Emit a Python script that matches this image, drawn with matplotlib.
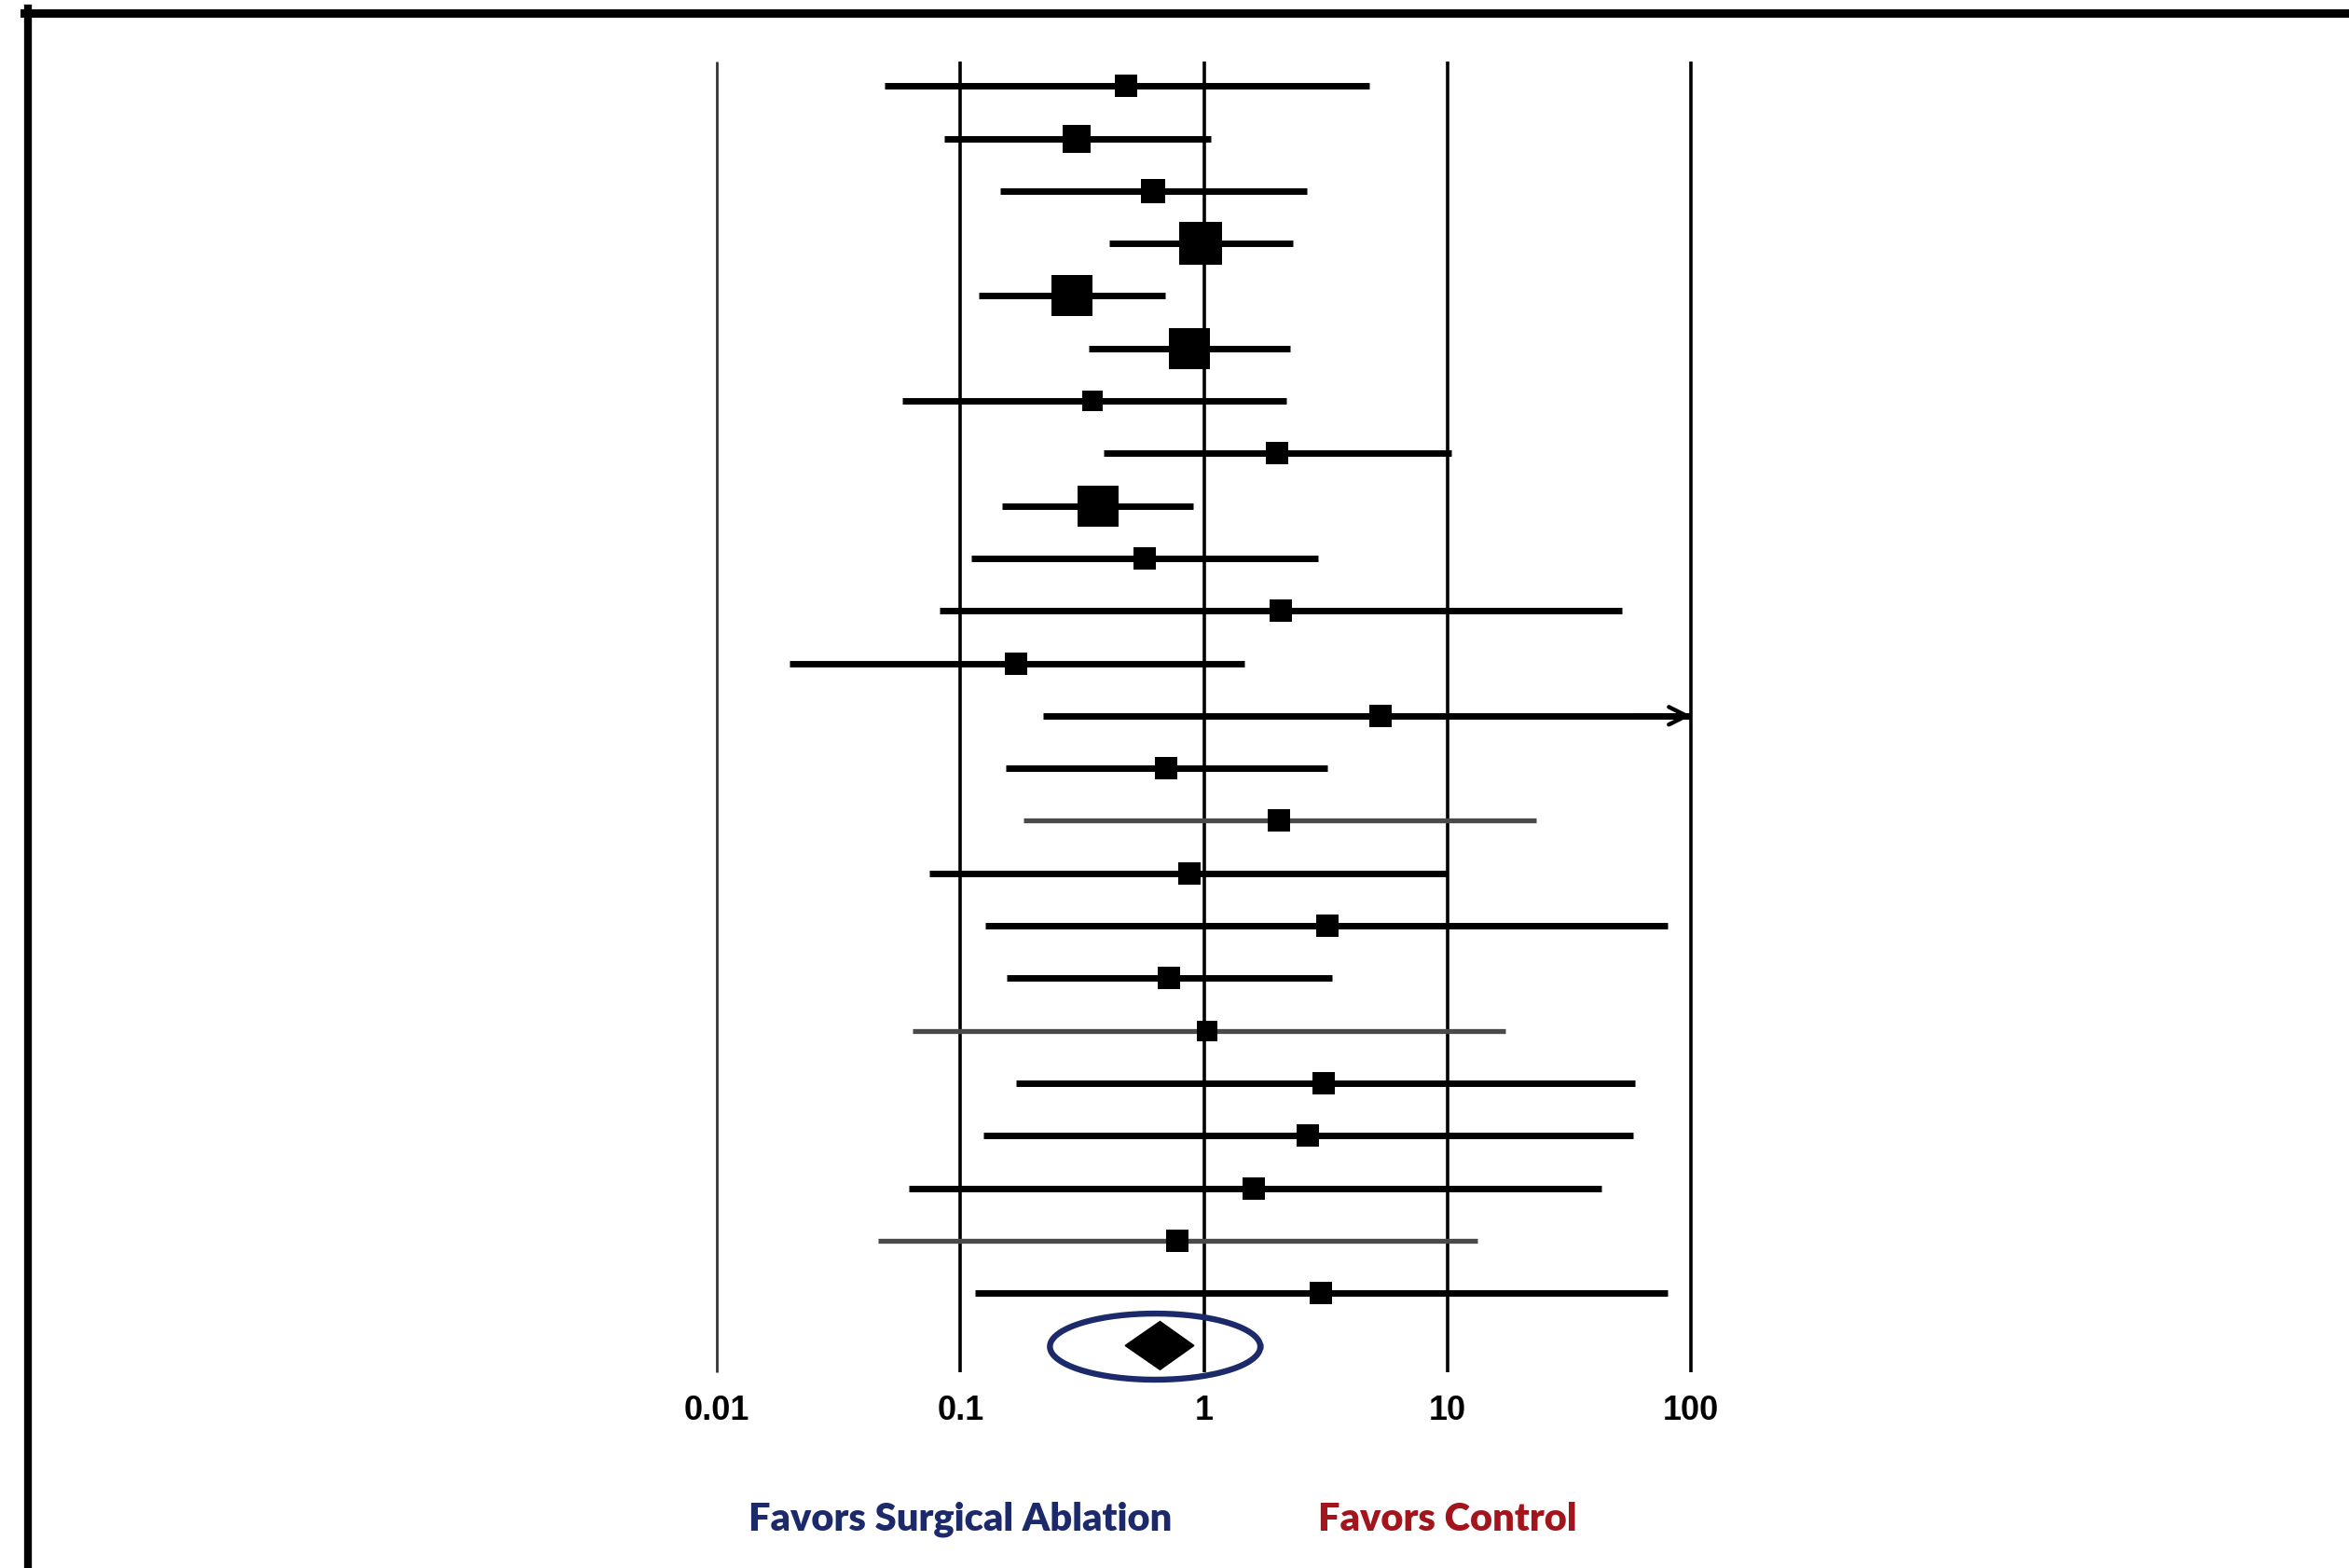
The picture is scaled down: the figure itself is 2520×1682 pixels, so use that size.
"""
Forest plot: surgical ablation vs control (odds ratios, log scale).
"""

import numpy as np
import matplotlib
matplotlib.use("Agg")
import matplotlib.pyplot as plt
from matplotlib.lines import Line2D

# Study estimates (odds ratio) with 95% CI, top to bottom
odds_ratio = [0.48, 0.30, 0.62, 0.97, 0.286, 0.87, 0.35, 1.99, 0.366, 0.57,
              2.06, 0.169, 5.3, 0.70, 2.03, 0.87, 3.22, 0.72, 1.03, 3.11,
              2.66, 1.60, 0.78, 3.03]
ci_low = [0.049, 0.086, 0.146, 0.41, 0.119, 0.337, 0.0575, 0.389, 0.148, 0.111,
          0.082, 0.0199, 0.219, 0.153, 0.181, 0.0748, 0.127, 0.155, 0.0636, 0.169,
          0.124, 0.0615, 0.046, 0.115]
ci_high = [4.76, 1.07, 2.64, 2.31, 0.695, 2.25, 2.17, 10.4, 0.90, 2.94,
           52.0, 1.46, 300.0, 3.22, 23.1, 10.0, 80.0, 3.35, 17.3, 59.0,
           57.8, 43.0, 13.3, 80.0]
# relative study weights (%) -> square size
weights = [3.0, 4.4, 3.5, 10.1, 9.6, 9.2, 2.5, 3.0, 9.2, 2.8,
           2.6, 2.6, 2.6, 2.9, 2.8, 2.6, 2.8, 2.9, 2.4, 2.6,
           2.6, 2.6, 2.6, 2.6]
# studies drawn with a lighter CI line in the original
light_rows = [15, 19, 23]

# pooled estimate
pooled_or, pooled_low, pooled_high = 0.66, 0.475, 0.91

tick_values = [0.01, 0.1, 1, 10, 100]
tick_labels = ["0.01", "0.1", "1", "10", "100"]
label_left = "Favors Surgical Ablation"
label_right = "Favors Control"

W, H = 2520, 1683
fig = plt.figure(figsize=(W / 100, H / 100), dpi=100)
fig.patch.set_facecolor("white")

# one decade = 261.3 px, 0.01 at x=769 px
decade = 261.3
x_lo, x_hi = -2.2, 2.2
left_px = 769 + (x_lo + 2) * decade
ax = fig.add_axes([left_px / W, 0, (x_hi - x_lo) * decade / W, 1])
ax.set_xscale("log")
ax.set_xlim(10 ** x_lo, 10 ** x_hi)

# rows: row 1 at 93.2 px, spacing 56.3 px
row0, step = 93.2, 56.3
ax.set_ylim(1 + (H - row0) / step, 1 - row0 / step)
ax.axis("off")

# vertical reference lines
for v in tick_values:
    lw, col = (2.0, "#333333") if v == 0.01 else (2.6, "black")
    ax.plot([v, v], [0.53, 25.5], color=col, lw=lw, solid_capstyle="butt", zorder=1)

n = len(odds_ratio)
rows = np.arange(1, n + 1)
for r, est, lo, hi, w in zip(rows, odds_ratio, ci_low, ci_high, weights):
    light = r in light_rows
    col = "#4a4a4a" if light else "black"
    lw = 3.8 if light else 5.0
    end = min(hi, 100)
    ax.plot([lo, end], [r, r], color=col, lw=lw, solid_capstyle="butt", zorder=2)
    if hi > 100:
        # open arrowhead for CI running off the scale
        ax.annotate("", xy=(100, r), xytext=(60, r),
                    arrowprops=dict(arrowstyle="->", color="black", lw=3.2,
                                    mutation_scale=34, shrinkA=0, shrinkB=0),
                    zorder=3)
    ax.plot(est, r, marker="s", color="black", markersize=10.3 * np.sqrt(w),
            markeredgewidth=0, zorder=3)

# pooled diamond
pr = n + 1
ax.fill([pooled_low, pooled_or, pooled_high, pooled_or],
        [pr, pr - 0.46, pr, pr + 0.46], color="black", zorder=4)

# highlight ellipse around the pooled estimate (drawn in log space)
t = np.linspace(0, 2 * np.pi, 300)
cx, a = np.log10(pooled_or) - 0.02, 0.432
ax.plot(10 ** (cx + a * np.cos(t)), pr + 0.02 + 0.63 * np.sin(t),
        color="#1c2a6b", lw=4.6, zorder=5)

# tick labels
for v, s in zip(tick_values, tick_labels):
    ax.text(v, 26.22, s, ha="center", va="center", fontsize=26,
            fontweight="bold", family="Liberation Sans", color="black")

ax.text(0.1, 28.3, label_left, ha="center", va="center", fontsize=30,
        fontweight="heavy", family="Lato", color="#1c2a6b")
ax.text(10, 28.3, label_right, ha="center", va="center", fontsize=30,
        fontweight="heavy", family="Lato", color="#a3141c")

# frame: top and left borders only
fig.add_artist(Line2D([30 / W, 30 / W], [0, 1 - 10 / H], color="black", lw=6))
fig.add_artist(Line2D([26 / W, 1], [1 - 14.5 / H, 1 - 14.5 / H], color="black", lw=6.5))

fig.savefig("out.png", dpi=100, facecolor="white")
